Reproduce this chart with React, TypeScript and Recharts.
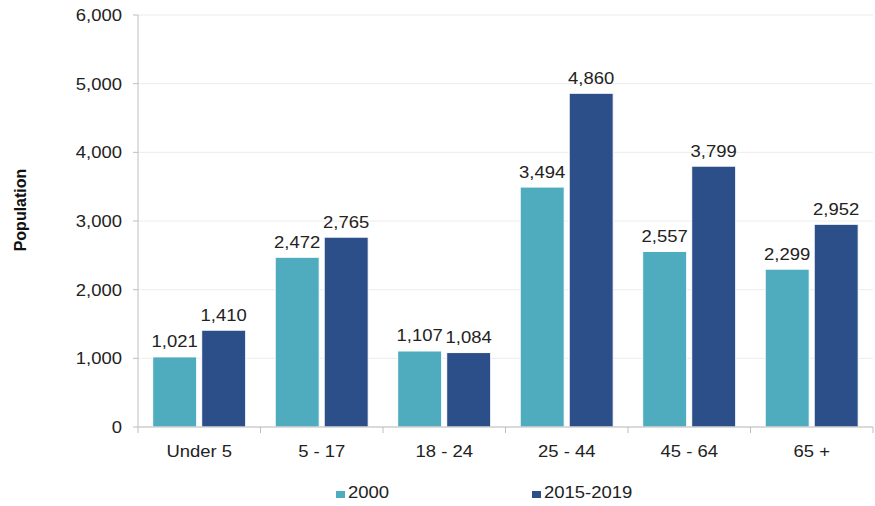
import React from 'react'
import { BarChart, Bar, XAxis, YAxis, CartesianGrid, Legend, LabelList } from 'recharts'

const ageGroups = ['Under 5', '5 - 17', '18 - 24', '25 - 44', '45 - 64', '65 +']
const pop2000 = [1021, 2472, 1107, 3494, 2557, 2299]
const pop2015 = [1410, 2765, 1084, 4860, 3799, 2952]
const yTicks = [0, 1000, 2000, 3000, 4000, 5000, 6000]

const series = [
  { key: 'y2000', name: '2000', color: '#4eacbe' },
  { key: 'y2015', name: '2015-2019', color: '#2c4f8a' },
]

const data = ageGroups.map((group, i) => ({ group, y2000: pop2000[i], y2015: pop2015[i] }))

const W = 875
const H = 506
const PLOT_LEFT = 138
const PLOT_RIGHT = 873
const BAND = (PLOT_RIGHT - PLOT_LEFT) / ageGroups.length
const FONT = '"Liberation Sans", Arial, sans-serif'
const FS = 16.5
const SX = 1.12 // source text is a bit wider than plain Arial
const fmt = (v: number) => v.toLocaleString('en-US')

// text stretched horizontally around its anchor point
function WideText({ x, y, anchor, children }: any) {
  return (
    <text
      transform={`translate(${x},${y}) scale(${SX},1)`}
      textAnchor={anchor}
      fill="#222"
      fontSize={FS}
      fontFamily={FONT}
    >
      {children}
    </text>
  )
}

// Excel-style x axis: tick marks on category boundaries
function XTick(props: any) {
  const { x, y, payload, index } = props
  const axisY = y - 8
  const last = index === ageGroups.length - 1
  return (
    <g>
      <line x1={x - BAND / 2} x2={x - BAND / 2} y1={axisY} y2={axisY + 6} stroke="#bfbfbf" />
      {last && <line x1={x + BAND / 2} x2={x + BAND / 2} y1={axisY} y2={axisY + 6} stroke="#bfbfbf" />}
      <WideText x={x} y={axisY + 29.5} anchor="middle">{payload.value}</WideText>
    </g>
  )
}

function YTick(props: any) {
  const { x, y, payload } = props
  return <WideText x={x} y={y + 6} anchor="end">{fmt(payload.value)}</WideText>
}

function BarLabel(props: any) {
  const { x, y, width, value } = props
  return <WideText x={x + width / 2} y={y - 9.5} anchor="middle">{fmt(Number(value))}</WideText>
}

function YTitle() {
  return (
    <text
      transform="translate(20,210) rotate(-90)"
      textAnchor="middle"
      dominantBaseline="central"
      fill="#111"
      fontSize={16}
      fontWeight="bold"
      fontFamily={FONT}
    >
      Population
    </text>
  )
}

function LegendBox() {
  const items = [
    { left: 336, ...series[0] },
    { left: 532, ...series[1] },
  ]
  return (
    <div style={{ position: 'relative', height: 19, fontFamily: FONT, fontSize: FS, lineHeight: '19px', color: '#222' }}>
      {items.map((it) => (
        <div key={it.key} style={{ position: 'absolute', left: it.left, top: 0, whiteSpace: 'nowrap' }}>
          <span style={{ position: 'absolute', left: 0, top: 8, width: 9, height: 7, background: it.color }} />
          <span style={{ position: 'absolute', left: 12, top: 0, transform: `scaleX(${SX})`, transformOrigin: 'left' }}>
            {it.name}
          </span>
        </div>
      ))}
    </div>
  )
}

export default function App() {
  return (
    <div style={{ position: 'absolute', left: 0, top: 0, width: W, height: H, background: '#fff' }}>
      <BarChart
        width={W}
        height={H}
        data={data}
        margin={{ top: 15, right: W - PLOT_RIGHT, left: 0, bottom: 19 }}
        barCategoryGap="12%"
        barGap={5}
      >
        <CartesianGrid vertical={false} stroke="#ececec" />
        <XAxis
          dataKey="group"
          axisLine={{ stroke: '#bfbfbf' }}
          tickLine={false}
          tick={<XTick />}
          height={30}
          interval={0}
        />
        <YAxis
          width={PLOT_LEFT}
          domain={[0, 6000]}
          ticks={yTicks}
          axisLine={{ stroke: '#bfbfbf' }}
          tickLine={{ stroke: '#bfbfbf' }}
          tickSize={5}
          tickMargin={11}
          tick={<YTick />}
          label={<YTitle />}
        />
        <Legend verticalAlign="bottom" height={30} content={<LegendBox />} wrapperStyle={{ top: 483, left: 0, width: W }} />
        {series.map((s) => (
          <Bar key={s.key} dataKey={s.key} name={s.name} fill={s.color} stroke="#fff" strokeWidth={1} isAnimationActive={false}>
            <LabelList dataKey={s.key} content={<BarLabel />} />
          </Bar>
        ))}
      </BarChart>
    </div>
  )
}
